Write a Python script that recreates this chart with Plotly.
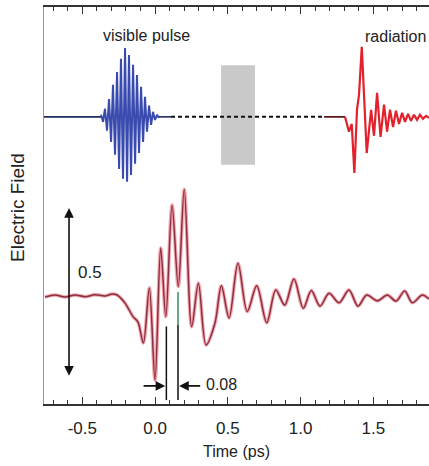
import plotly.graph_objects as go

# ---------------- data (time in ps, field in arb. units) ----------------
# upper trace (offset applied below)
top_offset = 0.53

pre_t = [-0.763, -0.371]
pre_v = [0.0, 0.0]

pulse_t = [-0.371, -0.357, -0.344, -0.330, -0.316, -0.302, -0.289, -0.275, -0.261, -0.247,
           -0.234, -0.220, -0.206, -0.192, -0.179, -0.165, -0.151, -0.137, -0.124, -0.110,
           -0.096, -0.082, -0.069, -0.055, -0.041, -0.027, -0.014, 0.000, 0.014, 0.027]
pulse_v = [0.006, -0.015, 0.024, -0.041, 0.053, -0.074, 0.095, -0.112, 0.133, -0.154,
           0.172, -0.183, 0.204, -0.192, 0.183, -0.172, 0.154, -0.139, 0.124, -0.107,
           0.089, -0.074, 0.059, -0.044, 0.033, -0.024, 0.015, -0.009, 0.006, -0.003]

post_t = [0.027, 0.110]
post_v = [0.0, 0.0]

gap_t = [0.110, 1.162]
gap_v = [0.0, 0.0]

rad_t = [1.162, 1.306, 1.333, 1.352, 1.370, 1.388, 1.402, 1.421, 1.455, 1.485,
         1.505, 1.526, 1.550, 1.574, 1.595, 1.615, 1.636, 1.656, 1.677, 1.698,
         1.718, 1.739, 1.759, 1.780, 1.801, 1.821, 1.842, 1.863, 1.883]
rad_v = [0.0, 0.0, -0.044, -0.021, -0.166, 0.021, 0.065, 0.207, -0.107, 0.021,
         -0.056, 0.071, -0.059, 0.036, -0.044, 0.021, -0.030, 0.018, -0.021, 0.012,
         -0.015, 0.009, -0.012, 0.006, -0.009, 0.006, -0.006, 0.003, -0.003]

# lower trace (measured field)
meas_t = [-0.756, -0.687, -0.619, -0.550, -0.481, -0.412, -0.344, -0.296, -0.261, -0.206,
          -0.151, -0.117, -0.080, -0.039, 0.000, 0.039, 0.074, 0.117, 0.160, 0.201,
          0.252, 0.298, 0.351, 0.412, 0.456, 0.509, 0.570, 0.634, 0.699, 0.768,
          0.830, 0.891, 0.955, 1.019, 1.074, 1.134, 1.196, 1.265, 1.333, 1.395,
          1.455, 1.528, 1.597, 1.656, 1.716, 1.768, 1.837, 1.883]
meas_v = [-0.003, 0.003, -0.003, 0.003, -0.002, 0.004, 0.000, 0.006, 0.003, -0.021,
          -0.061, -0.077, -0.139, 0.024, -0.249, 0.142, -0.061, 0.269, 0.028, 0.316,
          -0.091, 0.038, -0.145, -0.080, 0.030, -0.065, 0.097, -0.046, 0.030, -0.079,
          0.018, -0.027, 0.050, -0.036, 0.016, -0.030, 0.008, -0.020, 0.018, -0.030,
          0.003, -0.014, 0.003, -0.015, 0.015, -0.020, 0.003, -0.009]

# gate window (grey box) in ps
gate_t = [0.454, 0.687]
gate_v = [-0.142, 0.153]

x_tickvals = [-0.5, 0.0, 0.5, 1.0, 1.5]
x_ticktext = ["-0.5", "0.0", "0.5", "1.0", "1.5"]

FONT = "Liberation Sans, Arial, sans-serif"

fig = go.Figure()

# grey box
fig.add_shape(type="rect", x0=gate_t[0], x1=gate_t[1],
              y0=top_offset + gate_v[0], y1=top_offset + gate_v[1],
              fillcolor="#c9c9c9", line=dict(width=0), layer="below")

fig.add_trace(go.Scatter(x=pre_t, y=[v + top_offset for v in pre_v], mode="lines",
                         line=dict(color="#1f2a5c", width=1.6), hoverinfo="skip"))
fig.add_trace(go.Scatter(x=pulse_t, y=[v + top_offset for v in pulse_v], mode="lines",
                         line=dict(color="#3a4bb0", width=2), hoverinfo="skip"))
fig.add_trace(go.Scatter(x=post_t, y=[v + top_offset for v in post_v], mode="lines",
                         line=dict(color="#1f2a5c", width=1.6), hoverinfo="skip"))
fig.add_trace(go.Scatter(x=gap_t, y=[v + top_offset for v in gap_v], mode="lines",
                         line=dict(color="#111111", width=2, dash="4px,3px"), hoverinfo="skip"))
fig.add_trace(go.Scatter(x=rad_t[:2], y=[v + top_offset for v in rad_v[:2]], mode="lines",
                         line=dict(color="#5a1a1a", width=1.8), hoverinfo="skip"))
fig.add_trace(go.Scatter(x=rad_t[1:], y=[v + top_offset for v in rad_v[1:]], mode="lines",
                         line=dict(color="#e4202a", width=2.2), hoverinfo="skip"))

# lower measured trace: pink halo + dark core
fig.add_trace(go.Scatter(x=meas_t, y=meas_v, mode="lines",
                         line=dict(color="#f2a6ae", width=3.6, shape="spline", smoothing=0.9),
                         hoverinfo="skip"))
fig.add_trace(go.Scatter(x=meas_t, y=meas_v, mode="lines",
                         line=dict(color="#8a3040", width=1.5, shape="spline", smoothing=0.9),
                         hoverinfo="skip"))

# 0.08 ps markers
fig.add_shape(type="line", x0=0.078, x1=0.078, y0=-0.308, y1=-0.09,
              line=dict(color="#111111", width=1.5))
fig.add_shape(type="line", x0=0.158, x1=0.158, y0=-0.308, y1=-0.085,
              line=dict(color="#111111", width=1.5))
fig.add_shape(type="line", x0=0.158, x1=0.158, y0=-0.085, y1=0.012,
              line=dict(color="#3a8a5a", width=1.5))

# arrows
fig.add_annotation(x=-0.591, y=0.26, ax=-0.591, ay=-0.24, xref="x", yref="y",
                   axref="x", ayref="y", showarrow=True, arrowhead=2, arrowside="end+start",
                   arrowsize=1.2, arrowwidth=1.6, arrowcolor="#111111", text="")
fig.add_annotation(x=0.070, y=-0.266, ax=-0.089, ay=-0.266, xref="x", yref="y",
                   axref="x", ayref="y", showarrow=True, arrowhead=2, arrowsize=1.2,
                   arrowwidth=1.6, arrowcolor="#111111", text="")
fig.add_annotation(x=0.166, y=-0.266, ax=0.321, ay=-0.266, xref="x", yref="y",
                   axref="x", ayref="y", showarrow=True, arrowhead=2, arrowsize=1.2,
                   arrowwidth=1.6, arrowcolor="#111111", text="")

# text labels
fig.add_annotation(x=-0.062, y=0.772, text="visible pulse", showarrow=False,
                   font=dict(family=FONT, size=16, color="#222222"))
fig.add_annotation(x=1.65, y=0.769, text="radiation", showarrow=False,
                   font=dict(family=FONT, size=16, color="#222222"))
fig.add_annotation(x=-0.447, y=0.071, text="0.5", showarrow=False,
                   font=dict(family=FONT, size=17, color="#222222"))
fig.add_annotation(x=0.336, y=-0.262, text="0.08", showarrow=False, xanchor="left",
                   font=dict(family=FONT, size=16, color="#222222"))
fig.add_annotation(x=-0.0675, y=0.494, xref="paper", yref="paper", text="Electric Field",
                   textangle=-90, showarrow=False, xanchor="center", yanchor="middle",
                   font=dict(family=FONT, size=19, color="#222222"))

fig.update_layout(
    width=429, height=466,
    margin=dict(l=44, r=0, t=7, b=62),
    paper_bgcolor="white", plot_bgcolor="white",
    showlegend=False,
    font=dict(family=FONT, color="#222222"),
    xaxis=dict(range=[-0.763, 1.883], tickvals=x_tickvals, ticktext=x_ticktext,
               ticks="inside", ticklen=7, tickwidth=1.3, tickcolor="#333333",
               minor=dict(dtick=0.1, tick0=0, ticks="inside", ticklen=4,
                          tickwidth=1.1, tickcolor="#333333"),
               showline=True, linecolor="#333333", linewidth=1.5, mirror="ticks",
               showgrid=False, zeroline=False,
               tickfont=dict(family=FONT, size=17, color="#222222"),
               ticklabelstandoff=8,
               title=dict(text="Time (ps)", standoff=9,
                          font=dict(family=FONT, size=16, color="#222222"))),
    yaxis=dict(range=[-0.3195, 0.855], showline=True, linecolor="#999999", linewidth=1,
               showticklabels=False, ticks="", showgrid=False, zeroline=False),
)

fig.write_html("out.html", config={"displayModeBar": False},
               post_script="document.body.style.margin='0';document.body.style.overflow='hidden';")
